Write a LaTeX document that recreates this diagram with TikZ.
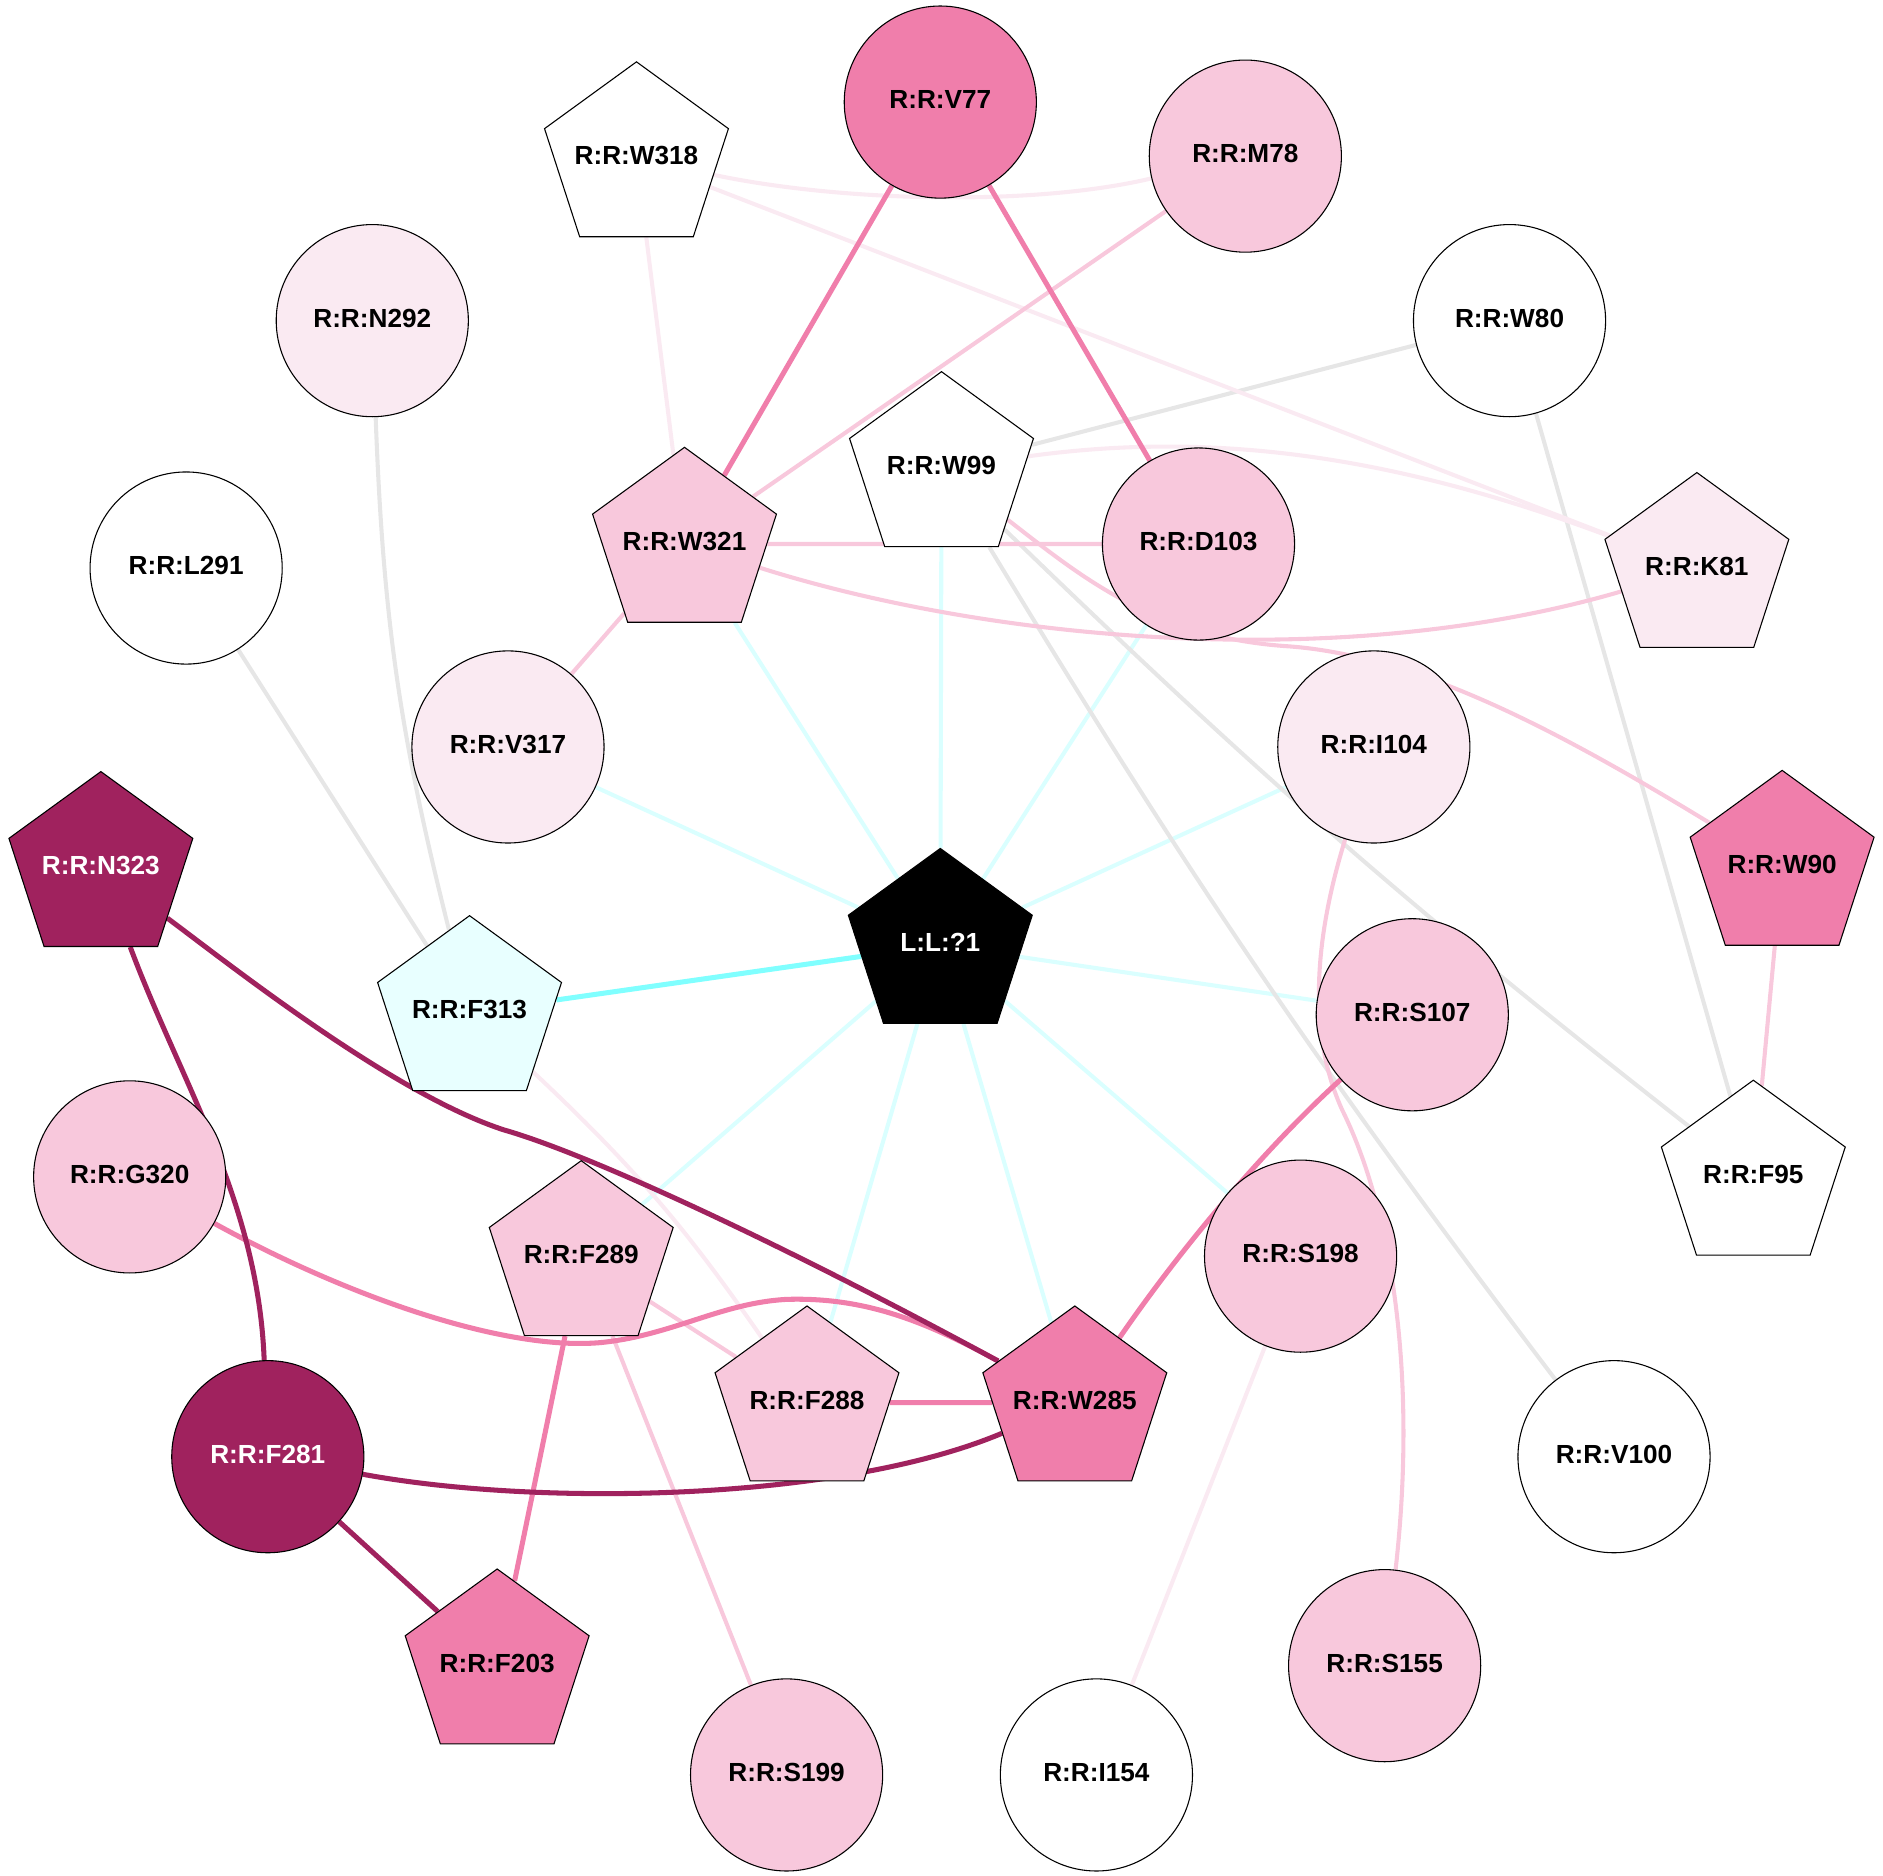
\documentclass[tikz,border=0pt]{standalone}
\usepackage{fontspec}
\setmainfont{Liberation Sans}
\usetikzlibrary{shapes.geometric,backgrounds}

\definecolor{pkdark}{HTML}{A0225E}
\definecolor{pkmid}{HTML}{F07EAB}
\definecolor{pklight}{HTML}{F8C8DC}
\definecolor{pkpale}{HTML}{FAEAF2}
\definecolor{cyfill}{HTML}{E8FFFF}
\definecolor{cyedge}{HTML}{DAFFFF}
\definecolor{cybright}{HTML}{80FFFF}
\definecolor{greyedge}{HTML}{E6E6E6}

\tikzset{
  res/.style={circle,draw=black,line width=0.45pt,minimum size=80pt,inner sep=0pt,
    font=\fontsize{10.9}{13}\selectfont\bfseries,text depth=2.3pt},
  pent/.style={res,regular polygon,regular polygon sides=5,minimum size=80.5pt,inner xsep=-12pt},
  lig/.style={draw=cyedge,line width=1.7pt},
  ligstrong/.style={draw=cybright,line width=2.1pt},
  grey/.style={draw=greyedge,line width=1.7pt},
  pale/.style={draw=pkpale,line width=1.7pt},
  light/.style={draw=pklight,line width=1.7pt},
  mid/.style={draw=pkmid,line width=2.1pt},
  dark/.style={draw=pkdark,line width=2.1pt}
}

\begin{document}
\begin{tikzpicture}[x=0.5pt,y=-0.5pt]
      \useasboundingbox (0,0) rectangle (1568,1562);
      \draw
        (783,85) node[res,fill=pkmid] (V77){R:R:V77}
        (530,132) node[pent,fill=white] (W318){R:R:W318}
        (1037,130) node[res,fill=pklight] (M78){R:R:M78}
        (310,267) node[res,fill=pkpale] (N292){R:R:N292}
        (1257,267) node[res,fill=white] (W80){R:R:W80}
        (784,390) node[pent,fill=white] (W99){R:R:W99}
        (570,453) node[pent,fill=pklight] (W321){R:R:W321}
        (998,453) node[res,fill=pklight] (D103){R:R:D103}
        (155,473) node[res,fill=white] (L291){R:R:L291}
        (1413,474) node[pent,fill=pkpale] (K81){R:R:K81}
        (423,622) node[res,fill=pkpale] (V317){R:R:V317}
        (1144,622) node[res,fill=pkpale] (I104){R:R:I104}
        (84,723) node[pent,fill=pkdark,text=white] (N323){R:R:N323}
        (1484,722) node[pent,fill=pkmid] (W90){R:R:W90}
        (783,787) node[pent,fill=black,text=white] (L1){L:L:?1}
        (391,843) node[pent,fill=cyfill] (F313){R:R:F313}
        (1176,845) node[res,fill=pklight] (S107){R:R:S107}
        (108,980) node[res,fill=pklight] (G320){R:R:G320}
        (1460,980) node[pent,fill=white] (F95){R:R:F95}
        (484,1047) node[pent,fill=pklight] (F289){R:R:F289}
        (1083,1046) node[res,fill=pklight] (S198){R:R:S198}
        (672,1168) node[pent,fill=pklight] (F288){R:R:F288}
        (895,1168) node[pent,fill=pkmid] (W285){R:R:W285}
        (223,1213) node[res,fill=pkdark,text=white] (F281){R:R:F281}
        (1344,1213) node[res,fill=white] (V100){R:R:V100}
        (414,1387) node[pent,fill=pkmid] (F203){R:R:F203}
        (1153,1387) node[res,fill=pklight] (S155){R:R:S155}
        (655,1478) node[res,fill=pklight] (S199){R:R:S199}
        (913,1478) node[res,fill=white] (I154){R:R:I154};
      \begin{scope}[on background layer]
        \draw[lig] (L1) to (W321);
        \draw[lig] (L1) to (W99);
        \draw[lig] (L1) to (D103);
        \draw[lig] (L1) to (V317);
        \draw[lig] (L1) to (I104);
        \draw[lig] (L1) to (S107);
        \draw[lig] (L1) to (F289);
        \draw[lig] (L1) to (F288);
        \draw[lig] (L1) to (W285);
        \draw[lig] (L1) to (S198);
        \draw[ligstrong] (L1) to (F313);
        \draw[grey] (W80) to (W99);
        \draw[grey] (W80) to (F95);
        \draw[grey] (W99) to[bend right=3] (V100);
        \draw[grey] (W99) to[bend right=3] (F95);
        \draw[grey] (N292) to[bend right=6] (F313);
        \draw[grey] (L291) to (F313);
        \draw[pale] (W318) .. controls (700,168) and (860,172) .. (M78);
        \draw[pale] (W318) to (K81);
        \draw[pale] (W318) to (W321);
        \draw[pale] (W99) .. controls (1000,360) and (1150,375) .. (K81);
        \draw[pale] (F313) to[bend left=6] (F288);
        \draw[pale] (S198) to (I154);
        \draw[light] (M78) to (W321);
        \draw[light] (W99) .. controls (900,480) and (960,530) .. (1070,538)
          .. controls (1180,545) and (1300,610) .. (W90);
        \draw[light] (W321) to (D103);
        \draw[light] (W321) .. controls (830,535) and (1120,560) .. (K81);
        \draw[light] (W321) to (V317);
        \draw[light] (I104) .. controls (1095,780) and (1088,860) .. (1118,925)
          .. controls (1160,1010) and (1180,1150) .. (S155);
        \draw[light] (W90) to (F95);
        \draw[light] (F289) to (F288);
        \draw[light] (F289) to (S199);
        \draw[mid] (V77) to (W321);
        \draw[mid] (V77) to (D103);
        \draw[mid] (S107) .. controls (1060,950) and (990,1030) .. (W285);
        \draw[mid] (G320) .. controls (290,1080) and (420,1125) .. (500,1118)
          .. controls (560,1112) and (600,1085) .. (655,1082)
          .. controls (720,1080) and (770,1100) .. (W285);
        \draw[mid] (F289) to (F203);
        \draw[mid] (F288) to (W285);
        \draw[dark] (N323) .. controls (150,900) and (215,1000) .. (F281);
        \draw[dark] (N323) .. controls (200,810) and (330,912) .. (420,941)
          .. controls (490,961) and (650,1035) .. (W285);
        \draw[dark] (F281) .. controls (450,1255) and (700,1250) .. (W285);
        \draw[dark] (F281) to (F203);
      \end{scope}
    \end{tikzpicture}
\end{document}
